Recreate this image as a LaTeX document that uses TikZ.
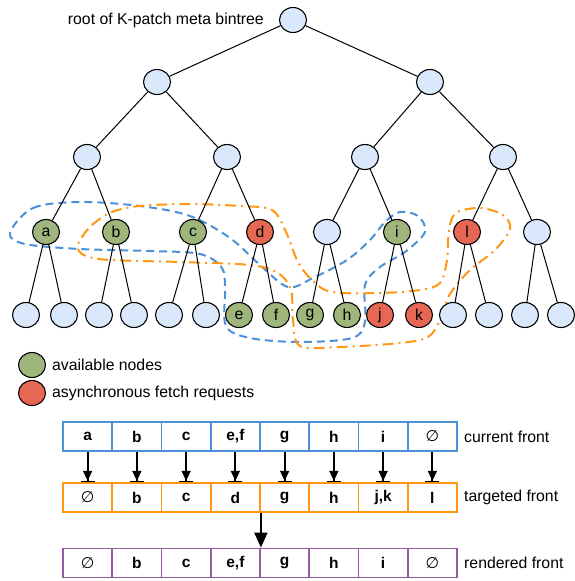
\documentclass[tikz,border=0pt]{standalone}
\usepackage{fontspec}
\setmainfont{Liberation Sans}
\newfontfamily\symbolfont{DejaVu Sans}
\usepackage{tikz}
\usetikzlibrary{arrows.meta,
shapes.geometric
}
\tikzset{>={Stealth[scale=1]}}
\newcommand{\nofront}{{\symbolfont\mdseries ∅}}
\definecolor{nodeblue}{RGB}{218,232,252}
\definecolor{nodegreen}{RGB}{158,181,124}
\definecolor{nodered}{RGB}{229,103,84}
\definecolor{frontblue}{RGB}{76,145,215}
\definecolor{frontorange}{RGB}{255,150,20}
\definecolor{frontpurple}{RGB}{150,90,160}
\tikzset{
  treenode/.style={ellipse, draw, line width=1.1pt, fill=nodeblue, minimum width=27pt, minimum height=25pt, inner sep=0pt},
  availnode/.style={treenode, fill=nodegreen},
  fetchnode/.style={treenode, fill=nodered},
  cell/.style={draw, line width=1.8pt, minimum width=49.25pt, minimum height=29pt, inner sep=0pt, font=\fontsize{15.5}{18}\selectfont\bfseries},
  label text/.style={anchor=west, inner sep=0pt},
  curfront/.style={frontblue, line width=2pt, dash pattern=on 8pt off 5pt},
  tgtfront/.style={frontorange, line width=2pt, dash pattern=on 11pt off 5pt on 2pt off 5pt}
}

\begin{document}
\begin{tikzpicture}[x=1pt, y=-1pt, font=\fontsize{15.8}{18}\selectfont]
            \useasboundingbox (0,0) rectangle (575,581);
            \draw[curfront] plot[smooth cycle, tension=0.55] coordinates {
                (10,233) (33,208) (80,202) (140,206) (190,216) (230,238) (260,265) (288,287)
                (313,278) (347,260) (370,240) (385,222) (400,212) (418,216) (425,232) (405,252)
                (380,267) (365,285) (365,322) (352,338) (300,342) (250,338) (226,326) (225,290)
                (222,268) (200,254) (150,251) (80,249) (25,244)};
            \draw[tgtfront] plot[smooth cycle, tension=0.55] coordinates {
                (80,240) (92,225) (112,212) (140,206) (190,204) (240,206) (272,210) (286,232)
                (298,262) (313,281) (332,292) (380,293) (420,290) (440,283) (447,260) (449,230)
                (456,213) (480,208) (503,215) (510,229) (495,250) (470,270) (450,294) (440,320)
                (428,337) (400,343) (340,347) (300,346) (293,320) (291,290) (278,273) (250,265)
                (180,262) (110,260) (86,256) (78,249)};
            \node[treenode] (t0) at (293,20) {};
            \node[label text, anchor=east] (rootlabel) at (264,20) {root of K-patch meta bintree};
            \node[treenode] (t1) at (157,82) {};
            \node[treenode] (t2) at (430,82) {};
            \node[treenode] (t11) at (87,157) {};
            \node[treenode] (t12) at (227,157) {};
            \node[treenode] (t21) at (365,157) {};
            \node[treenode] (t22) at (503,157) {};
            \node[availnode] (na) at (46,232) {a};
            \node[availnode] (nb) at (116,232) {b};
            \node[availnode] (nc) at (193,232) {c};
            \node[fetchnode] (nd) at (260,232) {d};
            \node[treenode] (nx) at (327,232) {};
            \node[availnode] (ni) at (397,232) {i};
            \node[fetchnode] (nl) at (467,232) {l};
            \node[treenode] (ny) at (537,232) {};
            \node[treenode] (la1) at (26,315) {};
            \node[treenode] (la2) at (64,315) {};
            \node[treenode] (lb1) at (99,315) {};
            \node[treenode] (lb2) at (134,315) {};
            \node[treenode] (lc1) at (169,315) {};
            \node[treenode] (lc2) at (206,315) {};
            \node[availnode] (ne) at (239,315) {e};
            \node[availnode] (nf) at (276,315) {f};
            \node[availnode] (ng) at (310,315) {g};
            \node[availnode] (nh) at (347,315) {h};
            \node[fetchnode] (nj) at (380,315) {j};
            \node[fetchnode] (nk) at (419,315) {k};
            \node[treenode] (ll1) at (453,315) {};
            \node[treenode] (ll2) at (489,315) {};
            \node[treenode] (ly1) at (525,315) {};
            \node[treenode] (ly2) at (561,315) {};
            \foreach \p/\c in {t0/t1, t0/t2, t1/t11, t1/t12, t2/t21, t2/t22,
                t11/na, t11/nb, t12/nc, t12/nd, t21/nx, t21/ni, t22/nl, t22/ny,
                na/la1, na/la2, nb/lb1, nb/lb2, nc/lc1, nc/lc2, nd/ne, nd/nf,
                nx/ng, nx/nh, ni/nj, ni/nk, nl/ll1, nl/ll2, ny/ly1, ny/ly2}
                \draw[line width=1pt] (\p) -- (\c);
            \node[availnode] (keygreen) at (32,365) {};
            \node[label text] (keygreentext) at (52,365) {available nodes};
            \node[fetchnode] (keyred) at (32,393) {};
            \node[label text] (keyredtext) at (52,393) {asynchronous fetch requests};
            \foreach \t [count=\k] in {a,b,c,{e,f},g,h,i,\nofront}
                \node[cell, draw=frontblue] (cur\k) at ({63+49.25*(\k-0.5)},436.5) {\t};
            \foreach \t [count=\k] in {\nofront,b,c,d,g,h,{j,k},l}
                \node[cell, draw=frontorange] (tgt\k) at ({63+49.25*(\k-0.5)},497.5) {\t};
            \foreach \t [count=\k] in {\nofront,b,c,{e,f},g,h,i,\nofront}
                \node[cell, draw=frontpurple] (ren\k) at ({63+49.25*(\k-0.5)},563) {\t};
            \node[label text] (curlabel) at (464,436.5) {current front};
            \node[label text] (tgtlabel) at (464,497.5) {targeted front};
            \node[label text] (renlabel) at (464,563) {rendered front};
            \foreach \k in {1,...,8}
                \draw[line width=1.8pt, -{Triangle[width=9pt,length=10pt]Bar[width=14pt,line width=1.3pt]}] (cur\k) -- (tgt\k);
            \draw[line width=1.8pt, -{Triangle[width=13pt,length=15pt]}] (tgt4.south east) -- (ren4.north east);
        \end{tikzpicture}
\end{document}
